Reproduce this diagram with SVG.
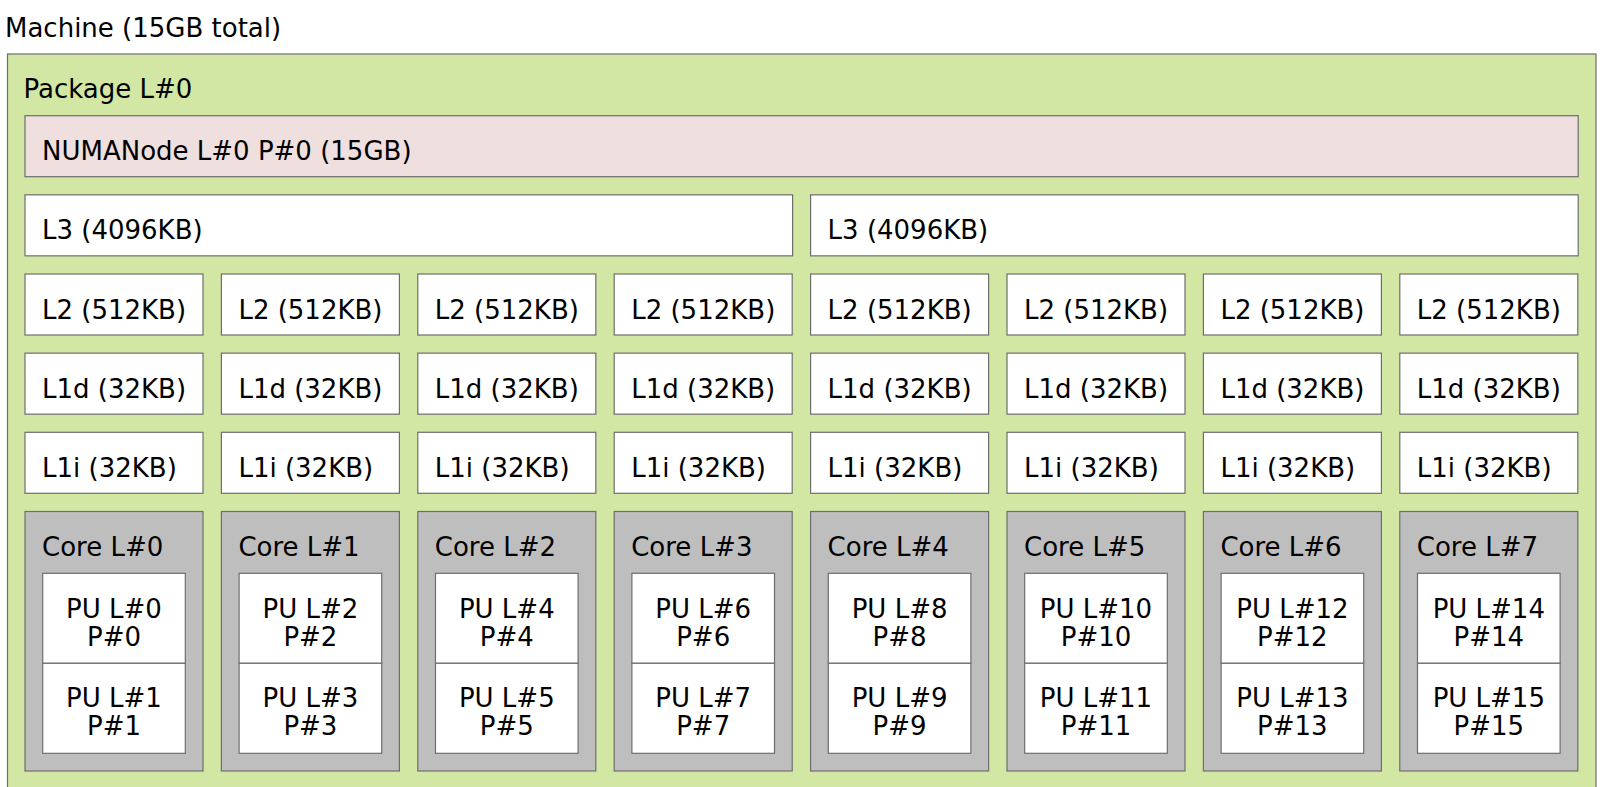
<svg xmlns="http://www.w3.org/2000/svg" width="1600" height="787" viewBox="0 0 1600 787">
<style>
text{font-family:"DejaVu Sans","Liberation Sans",sans-serif;font-size:26px;fill:#000}
.b{stroke:#6e6e6e;stroke-width:1.2}
.pkg{fill:#d2e7a4}
.numa{fill:#efdfde}
.cache{fill:#ffffff}
.core{fill:#bebebe}
.pu{fill:#ffffff}
.c{text-anchor:middle}
</style>
<rect x="0" y="0" width="1600" height="787" fill="#ffffff"/>
<g id="machine"><text x="5" y="36.7">Machine (15GB total)</text></g>
<g id="package"><rect class="b pkg" x="7.5" y="54" width="1588.5" height="760"/><text x="23.5" y="98.3">Package L#0</text></g>
<g id="numanode"><rect class="b numa" x="25" y="115.7" width="1553.2" height="61"/><text x="42" y="160.2">NUMANode L#0 P#0 (15GB)</text></g>
<g id="l3-0"><rect class="b cache" x="25" y="194.85" width="767.6" height="61"/><text x="42" y="239.35">L3 (4096KB)</text></g>
<g id="l3-1"><rect class="b cache" x="810.6" y="194.85" width="767.6" height="61"/><text x="827.6" y="239.35">L3 (4096KB)</text></g>
<g id="l2-0"><rect class="b cache" x="25" y="274" width="178" height="61"/><text x="42" y="318.5">L2 (512KB)</text></g>
<g id="l2-1"><rect class="b cache" x="221.4" y="274" width="178" height="61"/><text x="238.4" y="318.5">L2 (512KB)</text></g>
<g id="l2-2"><rect class="b cache" x="417.8" y="274" width="178" height="61"/><text x="434.8" y="318.5">L2 (512KB)</text></g>
<g id="l2-3"><rect class="b cache" x="614.2" y="274" width="178" height="61"/><text x="631.2" y="318.5">L2 (512KB)</text></g>
<g id="l2-4"><rect class="b cache" x="810.6" y="274" width="178" height="61"/><text x="827.6" y="318.5">L2 (512KB)</text></g>
<g id="l2-5"><rect class="b cache" x="1007" y="274" width="178" height="61"/><text x="1024" y="318.5">L2 (512KB)</text></g>
<g id="l2-6"><rect class="b cache" x="1203.4" y="274" width="178" height="61"/><text x="1220.4" y="318.5">L2 (512KB)</text></g>
<g id="l2-7"><rect class="b cache" x="1399.8" y="274" width="178" height="61"/><text x="1416.8" y="318.5">L2 (512KB)</text></g>
<g id="l1d-0"><rect class="b cache" x="25" y="353.15" width="178" height="61"/><text x="42" y="397.65">L1d (32KB)</text></g>
<g id="l1d-1"><rect class="b cache" x="221.4" y="353.15" width="178" height="61"/><text x="238.4" y="397.65">L1d (32KB)</text></g>
<g id="l1d-2"><rect class="b cache" x="417.8" y="353.15" width="178" height="61"/><text x="434.8" y="397.65">L1d (32KB)</text></g>
<g id="l1d-3"><rect class="b cache" x="614.2" y="353.15" width="178" height="61"/><text x="631.2" y="397.65">L1d (32KB)</text></g>
<g id="l1d-4"><rect class="b cache" x="810.6" y="353.15" width="178" height="61"/><text x="827.6" y="397.65">L1d (32KB)</text></g>
<g id="l1d-5"><rect class="b cache" x="1007" y="353.15" width="178" height="61"/><text x="1024" y="397.65">L1d (32KB)</text></g>
<g id="l1d-6"><rect class="b cache" x="1203.4" y="353.15" width="178" height="61"/><text x="1220.4" y="397.65">L1d (32KB)</text></g>
<g id="l1d-7"><rect class="b cache" x="1399.8" y="353.15" width="178" height="61"/><text x="1416.8" y="397.65">L1d (32KB)</text></g>
<g id="l1i-0"><rect class="b cache" x="25" y="432.3" width="178" height="61"/><text x="42" y="476.8">L1i (32KB)</text></g>
<g id="l1i-1"><rect class="b cache" x="221.4" y="432.3" width="178" height="61"/><text x="238.4" y="476.8">L1i (32KB)</text></g>
<g id="l1i-2"><rect class="b cache" x="417.8" y="432.3" width="178" height="61"/><text x="434.8" y="476.8">L1i (32KB)</text></g>
<g id="l1i-3"><rect class="b cache" x="614.2" y="432.3" width="178" height="61"/><text x="631.2" y="476.8">L1i (32KB)</text></g>
<g id="l1i-4"><rect class="b cache" x="810.6" y="432.3" width="178" height="61"/><text x="827.6" y="476.8">L1i (32KB)</text></g>
<g id="l1i-5"><rect class="b cache" x="1007" y="432.3" width="178" height="61"/><text x="1024" y="476.8">L1i (32KB)</text></g>
<g id="l1i-6"><rect class="b cache" x="1203.4" y="432.3" width="178" height="61"/><text x="1220.4" y="476.8">L1i (32KB)</text></g>
<g id="l1i-7"><rect class="b cache" x="1399.8" y="432.3" width="178" height="61"/><text x="1416.8" y="476.8">L1i (32KB)</text></g>
<g id="core-0"><rect class="b core" x="25" y="511.5" width="178" height="259.5"/><text x="42" y="555.8">Core L#0</text>
<g id="pu-0"><rect class="b pu" x="42.7" y="573.3" width="142.6" height="90"/><text class="c" x="114" y="618.3">PU L#0</text><text class="c" x="114" y="646">P#0</text></g>
<g id="pu-1"><rect class="b pu" x="42.7" y="663.3" width="142.6" height="90"/><text class="c" x="114" y="706.7">PU L#1</text><text class="c" x="114" y="735">P#1</text></g></g>
<g id="core-1"><rect class="b core" x="221.4" y="511.5" width="178" height="259.5"/><text x="238.4" y="555.8">Core L#1</text>
<g id="pu-2"><rect class="b pu" x="239.1" y="573.3" width="142.6" height="90"/><text class="c" x="310.4" y="618.3">PU L#2</text><text class="c" x="310.4" y="646">P#2</text></g>
<g id="pu-3"><rect class="b pu" x="239.1" y="663.3" width="142.6" height="90"/><text class="c" x="310.4" y="706.7">PU L#3</text><text class="c" x="310.4" y="735">P#3</text></g></g>
<g id="core-2"><rect class="b core" x="417.8" y="511.5" width="178" height="259.5"/><text x="434.8" y="555.8">Core L#2</text>
<g id="pu-4"><rect class="b pu" x="435.5" y="573.3" width="142.6" height="90"/><text class="c" x="506.8" y="618.3">PU L#4</text><text class="c" x="506.8" y="646">P#4</text></g>
<g id="pu-5"><rect class="b pu" x="435.5" y="663.3" width="142.6" height="90"/><text class="c" x="506.8" y="706.7">PU L#5</text><text class="c" x="506.8" y="735">P#5</text></g></g>
<g id="core-3"><rect class="b core" x="614.2" y="511.5" width="178" height="259.5"/><text x="631.2" y="555.8">Core L#3</text>
<g id="pu-6"><rect class="b pu" x="631.9" y="573.3" width="142.6" height="90"/><text class="c" x="703.2" y="618.3">PU L#6</text><text class="c" x="703.2" y="646">P#6</text></g>
<g id="pu-7"><rect class="b pu" x="631.9" y="663.3" width="142.6" height="90"/><text class="c" x="703.2" y="706.7">PU L#7</text><text class="c" x="703.2" y="735">P#7</text></g></g>
<g id="core-4"><rect class="b core" x="810.6" y="511.5" width="178" height="259.5"/><text x="827.6" y="555.8">Core L#4</text>
<g id="pu-8"><rect class="b pu" x="828.3" y="573.3" width="142.6" height="90"/><text class="c" x="899.6" y="618.3">PU L#8</text><text class="c" x="899.6" y="646">P#8</text></g>
<g id="pu-9"><rect class="b pu" x="828.3" y="663.3" width="142.6" height="90"/><text class="c" x="899.6" y="706.7">PU L#9</text><text class="c" x="899.6" y="735">P#9</text></g></g>
<g id="core-5"><rect class="b core" x="1007" y="511.5" width="178" height="259.5"/><text x="1024" y="555.8">Core L#5</text>
<g id="pu-10"><rect class="b pu" x="1024.7" y="573.3" width="142.6" height="90"/><text class="c" x="1096" y="618.3">PU L#10</text><text class="c" x="1096" y="646">P#10</text></g>
<g id="pu-11"><rect class="b pu" x="1024.7" y="663.3" width="142.6" height="90"/><text class="c" x="1096" y="706.7">PU L#11</text><text class="c" x="1096" y="735">P#11</text></g></g>
<g id="core-6"><rect class="b core" x="1203.4" y="511.5" width="178" height="259.5"/><text x="1220.4" y="555.8">Core L#6</text>
<g id="pu-12"><rect class="b pu" x="1221.1" y="573.3" width="142.6" height="90"/><text class="c" x="1292.4" y="618.3">PU L#12</text><text class="c" x="1292.4" y="646">P#12</text></g>
<g id="pu-13"><rect class="b pu" x="1221.1" y="663.3" width="142.6" height="90"/><text class="c" x="1292.4" y="706.7">PU L#13</text><text class="c" x="1292.4" y="735">P#13</text></g></g>
<g id="core-7"><rect class="b core" x="1399.8" y="511.5" width="178" height="259.5"/><text x="1416.8" y="555.8">Core L#7</text>
<g id="pu-14"><rect class="b pu" x="1417.5" y="573.3" width="142.6" height="90"/><text class="c" x="1488.8" y="618.3">PU L#14</text><text class="c" x="1488.8" y="646">P#14</text></g>
<g id="pu-15"><rect class="b pu" x="1417.5" y="663.3" width="142.6" height="90"/><text class="c" x="1488.8" y="706.7">PU L#15</text><text class="c" x="1488.8" y="735">P#15</text></g></g>
</svg>
